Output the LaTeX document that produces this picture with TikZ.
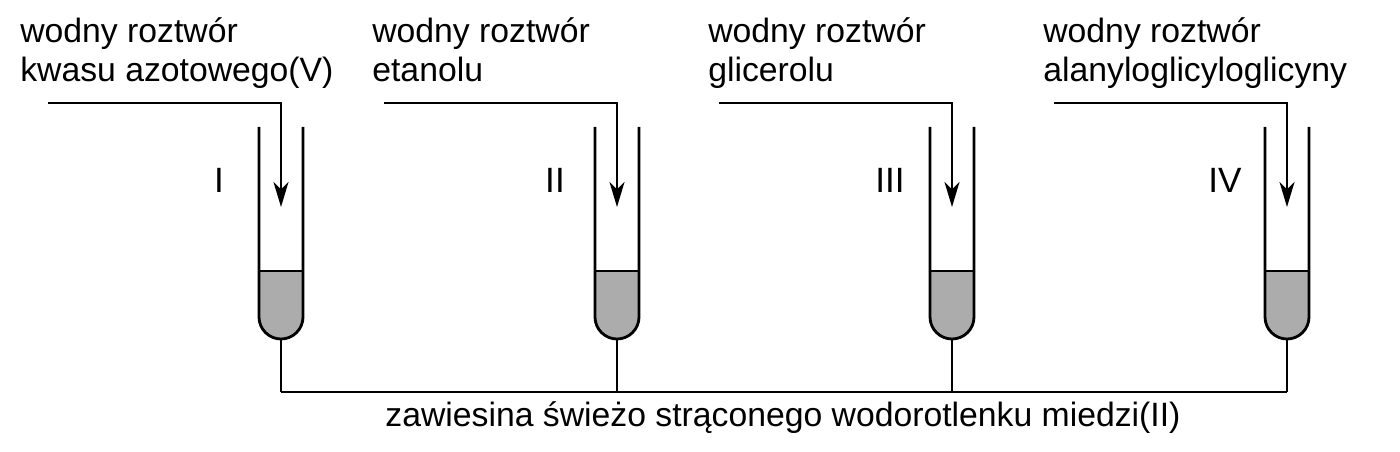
\documentclass[tikz,border=0pt]{standalone}
\usepackage{fontspec}
\setmainfont{Liberation Sans}
\usetikzlibrary{arrows.meta,positioning,calc}
\tikzset{
    tube/.style={
        draw=black,
        line width=1.6pt,
    },
    liquid/.style={
        fill=gray!65,
    },
    feed/.style={
        draw,
        line width=1.3pt,
        -{Stealth[length=5mm,width=3mm,inset=1.5mm]},
    },
    wire/.style={
        draw,
        line width=1.3pt,
    },
    label/.style={
        anchor=base west,
        align=left,
        inner sep=0pt,
        font=\fontsize{19.2}{22.7}\selectfont,
    },
    number/.style={
        inner sep=0pt,
        font=\fontsize{20}{22}\selectfont,
    },
}

\begin{document}
\begin{tikzpicture}
    \useasboundingbox (0,0) rectangle (28,9.04);

    % Tubes, numerals and feeds
    \foreach \c/\x/\n/\t [count=\i] in {5.62/0.40/I/{kwasu azotowego(V)},
                                     12.34/7.44/II/{etanolu},
                                     19.04/14.16/III/{glicerolu},
                                     25.74/20.86/IV/{alanyloglicyloglicyny}} {
        \coordinate (top-\i) at (\c,4.90);
        \coordinate (bot-\i) at (\c,2.26);
        \coordinate (wire-\i) at (\c,1.20);
        \coordinate (start-\i) at (\c-4.66,6.98);
        \fill[liquid] (\c-0.44,3.62) -- (\c-0.44,2.70) arc (180:360:0.44) -- (\c+0.44,3.62) -- cycle;
        \draw[tube] (\c-0.44,3.62) -- (\c+0.44,3.62);
        \draw[tube] (\c-0.44,6.50) -- (\c-0.44,2.70) arc (180:360:0.44) -- (\c+0.44,6.50);
        \node[number] (num-\i) at (\c-1.24,5.44) {\n};
        \node[label] (lab-\i) at (\x,7.40) {wodny roztwór\\\t};
        \path[feed] (start-\i) -| (top-\i);
        \path[wire] (bot-\i) -- (wire-\i);
    }

    % Common suspension
    \path[wire] (wire-1) -- (wire-4);
    \node[label, anchor=base] (susp) at (15.66,0.50) {zawiesina świeżo strąconego wodorotlenku miedzi(II)};
\end{tikzpicture}
\end{document}
